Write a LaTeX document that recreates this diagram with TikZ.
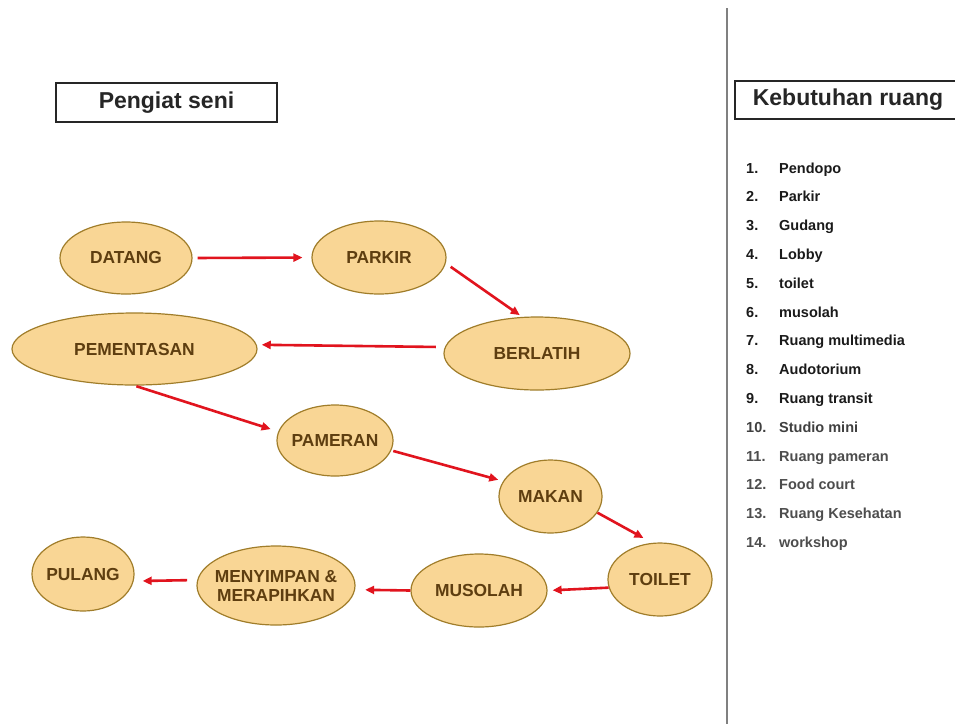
\documentclass[tikz,border=0pt]{standalone}
\usepackage{fontspec}
\setmainfont{Liberation Sans}
\usetikzlibrary{arrows.meta,shapes.geometric}
\definecolor{ovalfill}{HTML}{F9D695}
\definecolor{ovalline}{HTML}{A07D2A}
\definecolor{ovaltext}{HTML}{5E3E10}
\definecolor{flowred}{HTML}{E1141E}
\definecolor{listdark}{HTML}{1A1A1A}
\definecolor{listgray}{HTML}{4D4D4D}
\tikzset{
  oval/.style={ellipse, draw=ovalline, fill=ovalfill, line width=1.2pt, inner sep=-12pt,
    text=ovaltext, font=\fontsize{17.4}{19}\selectfont\bfseries, align=center},
  flow/.style={draw=flowred, line width=2.6pt, -{Triangle[length=9pt,width=8pt]}},
  titlebox/.style={draw=black!85, line width=1.3pt, inner sep=0pt,
    font=\fontsize{23}{26}\selectfont\bfseries, text=black!85},
  listtext/.style={anchor=base west, inner sep=0pt, font=\fontsize{14.5}{17}\selectfont\bfseries}
}
\begin{document}
\begin{tikzpicture}[x=1pt,y=-1pt]
\clip (0,0) rectangle (955,724);
\fill[white] (0,0) rectangle (955,724);
\node[titlebox, minimum width=221pt, minimum height=39pt] (pengiat) at (166.5,102.5) {Pengiat seni};
\node[titlebox, minimum width=226pt, minimum height=38pt] (kebutuhan) at (848,100) {Kebutuhan ruang};
\coordinate (septop) at (727,8);
\coordinate (sepbot) at (727,724);
\draw[line width=1.2pt, gray] (septop) -- (sepbot);
\node[oval, minimum width=132pt, minimum height=72pt] (datang) at (126,258) {DATANG};
\node[oval, minimum width=134pt, minimum height=73pt] (parkir) at (379,257.5) {PARKIR};
\node[oval, minimum width=245pt, minimum height=72pt] (pementasan) at (134.5,349) {PEMENTASAN};
\node[oval, minimum width=186pt, minimum height=73pt] (berlatih) at (537,353.5) {BERLATIH};
\node[oval, minimum width=116pt, minimum height=71pt] (pameran) at (335,440.5) {PAMERAN};
\node[oval, minimum width=103pt, minimum height=73pt] (makan) at (550.5,496.5) {MAKAN};
\node[oval, minimum width=104pt, minimum height=73pt] (toilet) at (660,579.5) {TOILET};
\node[oval, minimum width=136pt, minimum height=73pt] (musolah) at (479,590.5) {MUSOLAH};
\node[oval, minimum width=158pt, minimum height=79pt] (menyimpan) at (276,585.5) {MENYIMPAN \&\\MERAPIHKAN};
\node[oval, minimum width=102pt, minimum height=74pt] (pulang) at (83,574) {PULANG};
\draw[flow, shorten <=5pt, shorten >=9pt] (datang.east) -- (parkir.west);
\draw[flow, shorten <=6pt, shorten >=3pt] (parkir.-5) -- (berlatih.112);
\draw[flow, shorten <=9pt, shorten >=5pt] (berlatih.176) -- (pementasan.2);
\draw[flow, shorten <=2pt, shorten >=8pt] (pementasan.south) -- (pameran.171);
\draw[flow, shorten <=2pt, shorten >=5pt] (pameran.-10) -- (makan.162);
\draw[flow, shorten >=10pt] (makan.-19) -- (toilet.102);
\draw[flow, shorten >=5pt] (toilet.189) -- (musolah.east);
\draw[flow, shorten >=10pt] (musolah.west) -- (menyimpan.-3);
\draw[flow, shorten <=10pt, shorten >=9pt] (menyimpan.176) -- (pulang.-8);
\foreach \num/\room/\col [count=\i from 0] in {1./Pendopo/listdark, 2./Parkir/listdark,
  3./Gudang/listdark, 4./Lobby/listdark, 5./toilet/listdark, 6./musolah/listdark,
  7./Ruang multimedia/listdark, 8./Audotorium/listdark, 9./Ruang transit/listdark,
  10./Studio mini/black!75, 11./Ruang pameran/listgray, 12./Food court/listgray,
  13./Ruang Kesehatan/listgray, 14./workshop/listgray}{
  \node[listtext, text=\col] (num\i) at (746,173+\i*28.8) {\num};
  \node[listtext, text=\col] (room\i) at (779,173+\i*28.8) {\room};
}
\end{tikzpicture}
\end{document}
